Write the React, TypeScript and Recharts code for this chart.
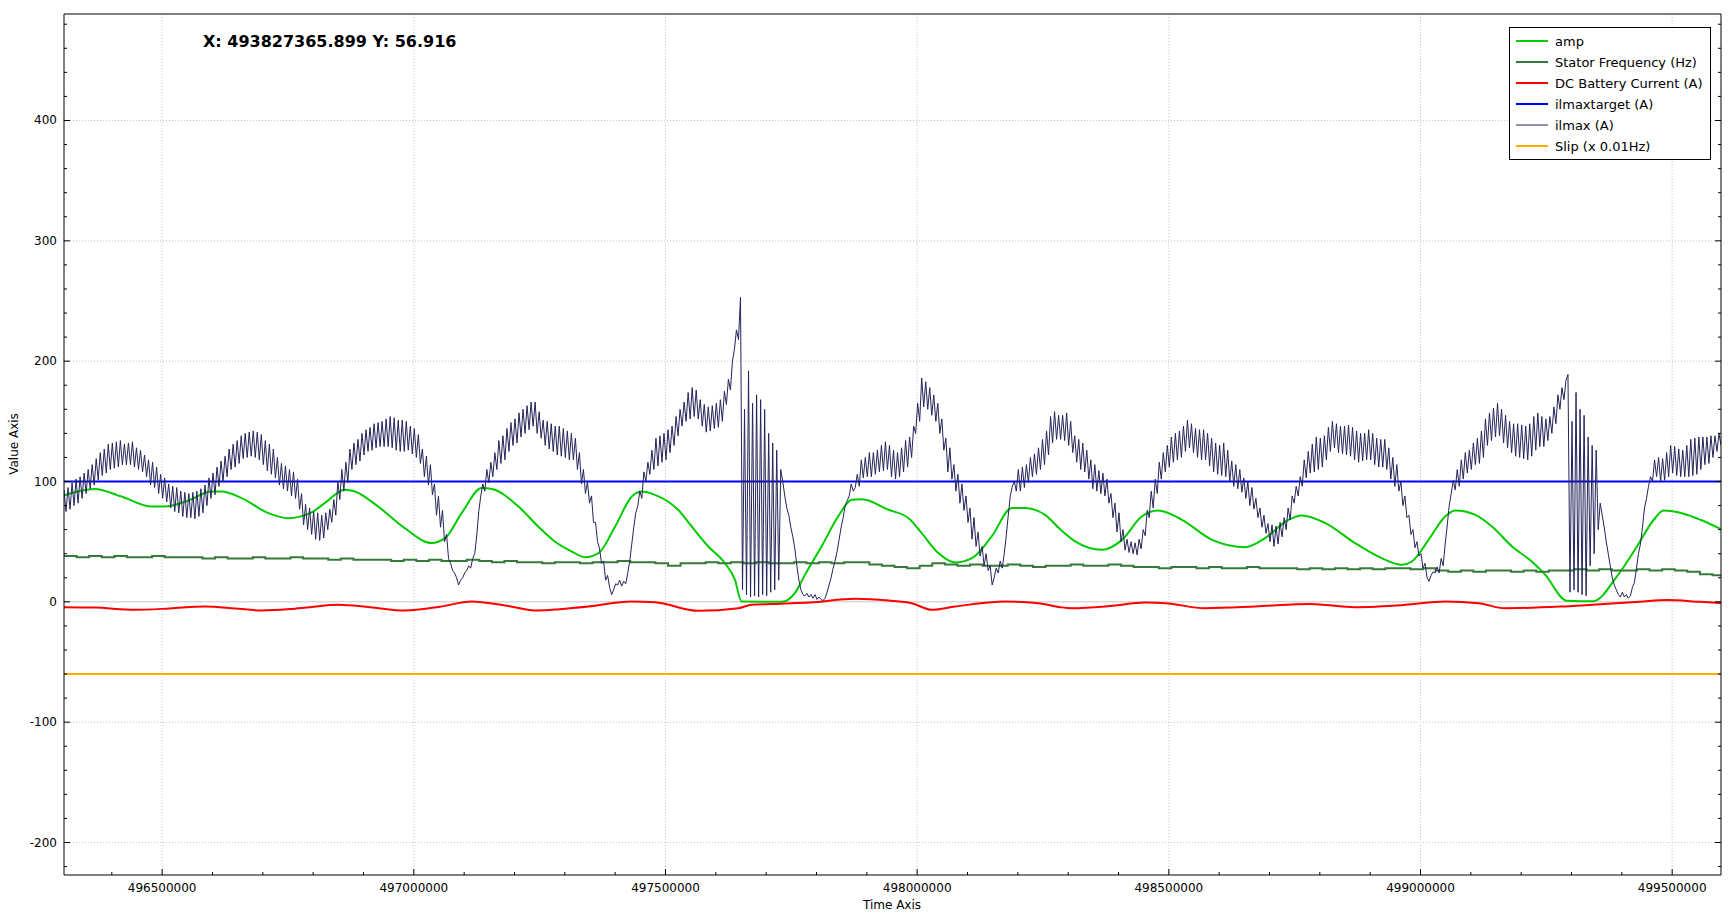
import React from "react";
import { LineChart, Line, XAxis, YAxis, CartesianGrid } from "recharts";

// visible window of the plot
const X_DOMAIN: [number, number] = [496305000, 499597000];
const Y_DOMAIN: [number, number] = [-227, 488.5];

const X_MAJOR = [496500000, 497000000, 497500000, 498000000, 498500000, 499000000, 499500000];
const Y_MAJOR = [-200, -100, 0, 100, 200, 300, 400];

// minor ticks every 100000 on x and every 20 on y
const X_TICKS: number[] = [];
for (let t = 496400000; t <= 499500000; t += 100000) X_TICKS.push(t);
const Y_TICKS: number[] = [];
for (let v = -220; v <= 480; v += 20) Y_TICKS.push(v);

// [time / 1000, value]
const AMP: [number, number][] = [
  [496305, 88.5], [496366, 93.7], [496419, 87.6], [496479, 79.2], [496505, 79.2], [496552, 84.2],
  [496598, 91.7], [496618, 91.7], [496658, 86.2], [496711, 73.7], [496750, 69.5], [496794, 73.7],
  [496823, 82], [496863, 93.1], [496883, 91.7], [496929, 79.2], [496982, 61.2], [497035, 48.8],
  [497062, 52.9], [497095, 73.7], [497135, 94.5], [497155, 93.7], [497208, 79.2], [497247, 62.6],
  [497280, 50.2], [497314, 41.8], [497340, 37.1], [497367, 40.5], [497400, 62.6], [497433, 87.6],
  [497453, 91.7], [497479, 88.9], [497525, 76.5], [497552, 62.6], [497585, 46], [497618, 32.1],
  [497638, 18.3], [497651, 0.3], [497731, 0], [497757, 7.2], [497777, 22.4], [497810, 46],
  [497843, 70.9], [497870, 84.8], [497890, 85.3], [497943, 76.5], [497983, 69.5], [498009, 57.1],
  [498042, 40.5], [498075, 32.7], [498109, 36.3], [498148, 54.3], [498188, 77.9], [498214, 77.9],
  [498254, 72.3], [498284, 60.4], [498314, 50.2], [498367, 43.2], [498407, 51.5], [498446, 70.9],
  [498479, 75.9], [498526, 68.2], [498586, 51.5], [498652, 45.4], [498691, 52.9], [498738, 68.2],
  [498764, 71.8], [498811, 65.4], [498870, 48.8], [498923, 36.3], [498963, 30.8], [498983, 33.5],
  [499016, 51.5], [499049, 70.9], [499069, 75.9], [499109, 72.3], [499142, 62.6], [499182, 46],
  [499221, 33.5], [499248, 22.4], [499290, 1], [499343, 0.5], [499390, 21], [499430, 46],
  [499463, 68], [499483, 75.9], [499523, 73.2], [499556, 68.2], [499597, 60.4],
];

const STATOR_T0 = 496305000;
const STATOR_DT = 25000;
const STATOR = [
  38, 37, 38, 37, 38, 37, 37, 38, 37, 37,
  37, 36, 37, 36, 36, 37, 36, 36, 37, 36,
  36, 35, 36, 35, 35, 35, 34, 35, 34, 35,
  34, 34, 35, 34, 33, 34, 33, 33, 32, 33,
  33, 32, 33, 33, 34, 33, 33, 32, 30, 32,
  32, 33, 32, 33, 32, 33, 32, 32, 33, 32,
  33, 32, 33, 33, 31, 30, 29, 28, 30, 32,
  31, 30, 31, 30, 30, 31, 30, 29, 30, 30,
  31, 30, 30, 31, 30, 29, 29, 28, 29, 29,
  28, 29, 28, 28, 29, 28, 28, 28, 27, 28,
  27, 28, 27, 28, 27, 28, 28, 27, 28, 26,
  25, 26, 25, 26, 26, 25, 26, 25, 26, 26,
  27, 26, 27, 26, 26, 27, 26, 27, 26, 25,
  23, 22, 21,
];

const DC: [number, number][] = [
  [496305, -4.5], [496366, -4.8], [496446, -6.6], [496515, -5.5], [496585, -3.9], [496645, -5.5],
  [496698, -7.2], [496754, -6], [496794, -4.4], [496850, -2.5], [496913, -4.5], [496982, -7.2],
  [497052, -4], [497115, 0.3], [497181, -3], [497247, -7.2], [497290, -6.1], [497347, -3.9],
  [497433, 0.3], [497479, -0.3], [497565, -7.5], [497645, -5.3], [497671, -2.5], [497728, -1.5],
  [497787, -0.6], [497877, 2.5], [497943, 1.1], [497989, -1.1], [498029, -6.6], [498075, -3.9],
  [498175, 0.3], [498241, -1.1], [498284, -4.4], [498307, -5.3], [498383, -3.5], [498453, -0.6],
  [498493, -1.1], [498572, -5.3], [498672, -3.9], [498781, -1.7], [498870, -4.4], [498970, -2.5],
  [499049, 0.3], [499115, -1.1], [499168, -5.3], [499278, -3.9], [499357, -2], [499435, 0],
  [499490, 1.5], [499556, 0], [499597, -1],
];

const ILMAX_TARGET: [number, number][] = [[496305, 100], [499597, 100]];
const SLIP: [number, number][] = [[496305, -60], [499597, -60]];

const ILMAX_T0 = 496305000;
const ILMAX_DT = 4000;
const ILMAX = [
  93, 75, 95, 77, 99, 80, 102, 82, 104, 86, 107, 90, 110, 94, 114,
  97, 119, 101, 124, 105, 127, 107, 131, 110, 132, 111, 133, 112, 134, 114,
  131, 114, 132, 114, 133, 112, 128, 110, 126, 108, 122, 104, 118, 97, 116,
  95, 112, 90, 106, 86, 103, 83, 98, 78, 96, 75, 95, 74, 92, 71,
  91, 70, 90, 70, 91, 69, 92, 71, 94, 74, 97, 80, 103, 86, 107,
  89, 112, 96, 117, 100, 121, 104, 127, 110, 131, 112, 134, 115, 138, 119,
  140, 120, 141, 121, 142, 120, 141, 118, 139, 114, 134, 109, 131, 106, 127,
  103, 120, 97, 115, 94, 113, 92, 110, 88, 108, 86, 102, 77, 90, 64,
  81, 60, 78, 56, 75, 52, 74, 51, 72, 53, 74, 60, 77, 66, 85,
  72, 100, 85, 110, 92, 116, 99, 127, 110, 132, 114, 135, 117, 140, 122,
  143, 125, 145, 126, 148, 128, 149, 129, 150, 129, 152, 129, 154, 128, 153,
  126, 151, 125, 151, 125, 150, 126, 146, 123, 144, 120, 139, 115, 127, 104,
  121, 97, 114, 89, 98, 72, 88, 62, 76, 50, 56, 36, 32, 26, 24,
  20, 14, 18, 20, 24, 26, 30, 28, 36, 40, 55, 75, 88, 98, 92,
  110, 99, 116, 104, 124, 110, 134, 115, 138, 118, 144, 125, 149, 130, 152,
  132, 157, 137, 160, 140, 163, 143, 166, 146, 166, 140, 158, 136, 151, 130,
  150, 127, 148, 125, 146, 122, 146, 121, 144, 120, 142, 118, 140, 118, 136,
  110, 124, 98, 110, 90, 100, 82, 88, 66, 66, 50, 44, 32, 34, 18,
  22, 12, 6, 10, 15, 14, 18, 13, 17, 15, 24, 34, 48, 62, 74,
  80, 92, 86, 108, 100, 116, 106, 126, 110, 136, 113, 138, 116, 140, 118,
  143, 124, 146, 130, 154, 138, 160, 146, 166, 150, 174, 152, 178, 154, 176,
  152, 168, 146, 164, 141, 162, 142, 163, 144, 165, 145, 168, 150, 175, 164,
  185, 176, 200, 210, 226, 218, 253, 10, 160, 6, 192, 4, 165, 5, 172,
  4, 168, 6, 160, 5, 140, 8, 132, 10, 126, 18, 110, 100, 88, 78,
  72, 62, 54, 44, 30, 18, 10, 6, 5, 7, 4, 6, 3, 6, 2,
  4, 2, 1, 3, 8, 14, 20, 28, 34, 42, 52, 62, 70, 80, 84,
  88, 98, 92, 95, 106, 96, 118, 103, 120, 104, 124, 104, 124, 106, 126,
  108, 130, 109, 133, 110, 130, 104, 126, 102, 124, 104, 128, 108, 134, 112,
  137, 120, 146, 140, 165, 150, 186, 162, 183, 160, 178, 155, 172, 150, 165,
  140, 152, 126, 136, 108, 128, 102, 114, 92, 106, 82, 98, 76, 88, 66,
  78, 52, 70, 46, 58, 38, 46, 30, 40, 26, 30, 14, 20, 28, 24,
  34, 28, 40, 55, 72, 88, 96, 100, 92, 110, 92, 112, 95, 114, 99,
  120, 104, 123, 106, 128, 110, 135, 114, 142, 122, 154, 132, 158, 135, 155,
  135, 155, 134, 157, 130, 150, 124, 138, 116, 135, 110, 132, 108, 126, 102,
  118, 94, 114, 92, 109, 90, 107, 88, 102, 82, 90, 70, 82, 58, 74,
  50, 60, 43, 52, 41, 50, 40, 49, 39, 52, 44, 60, 55, 76, 70,
  92, 78, 102, 90, 116, 102, 124, 108, 130, 112, 137, 116, 140, 118, 142,
  120, 146, 125, 151, 128, 148, 124, 144, 120, 143, 118, 143, 118, 140, 113,
  136, 108, 132, 106, 130, 105, 132, 104, 126, 100, 117, 96, 114, 94, 110,
  91, 103, 86, 100, 80, 95, 77, 86, 70, 78, 62, 72, 57, 65, 50,
  64, 46, 63, 48, 66, 54, 70, 60, 78, 68, 88, 82, 96, 88, 104,
  96, 118, 103, 125, 107, 131, 108, 137, 110, 136, 112, 138, 118, 145, 125,
  150, 128, 148, 124, 146, 123, 146, 122, 147, 121, 145, 118, 142, 116, 140,
  117, 140, 118, 143, 118, 140, 114, 136, 112, 135, 112, 135, 110, 128, 102,
  120, 96, 114, 92, 100, 80, 88, 70, 72, 56, 60, 45, 50, 38, 40,
  28, 32, 20, 17, 22, 25, 24, 29, 24, 36, 30, 48, 63, 80, 90,
  101, 93, 110, 96, 118, 102, 124, 107, 126, 110, 132, 114, 136, 115, 142,
  120, 152, 130, 157, 134, 161, 137, 165, 138, 160, 132, 155, 128, 150, 124,
  148, 121, 148, 120, 147, 119, 146, 118, 148, 121, 154, 126, 157, 129, 154,
  129, 152, 134, 154, 140, 162, 148, 172, 160, 178, 168, 184, 189, 8, 150,
  10, 174, 8, 160, 6, 155, 5, 137, 30, 130, 40, 126, 60, 82, 72,
  62, 50, 40, 30, 20, 14, 10, 6, 4, 8, 4, 6, 3, 5, 12,
  16, 28, 40, 48, 62, 78, 86, 96, 104, 100, 118, 104, 120, 100, 119,
  101, 124, 104, 130, 107, 129, 105, 127, 104, 126, 104, 130, 104, 135, 105,
  136, 106, 137, 110, 137, 114, 137, 115, 138, 120, 138, 125,
  140, 130,
];

const SERIES = [
  { name: "amp", color: "#00cc00", width: 2 },
  { name: "Stator Frequency (Hz)", color: "#367a39", width: 2 },
  { name: "DC Battery Current (A)", color: "#ff0000", width: 2 },
  { name: "ilmaxtarget (A)", color: "#0000ff", width: 2 },
  { name: "ilmax (A)", color: "#24245a", width: 1 },
  { name: "Slip (x 0.01Hz)", color: "#ffaa00", width: 2 },
];

const pairs = (arr: [number, number][]) => arr.map(([t, v]) => ({ t: t * 1000, v }));
const ampData = pairs(AMP);
const dcData = pairs(DC);
const targetData = pairs(ILMAX_TARGET);
const slipData = pairs(SLIP);
const statorData = STATOR.map((v, i) => ({ t: STATOR_T0 + i * STATOR_DT, v }));
const ilmaxData = ILMAX.map((v, i) => ({ t: ILMAX_T0 + i * ILMAX_DT, v }));

const FONT = "DejaVu Sans";

const isMajorX = (v: number) => v % 500000 === 0;
const isMajorY = (v: number) => v % 100 === 0;

function BottomTick({ x, y, payload }: any) {
  const major = isMajorX(payload.value);
  return (
    <g>
      <line x1={x} x2={x} y1={y} y2={y - (major ? 6 : 3)} stroke="#000" />
      {major && (
        <text x={x} y={y + 13} textAnchor="middle" dominantBaseline="central" fontSize={12} fontFamily={FONT} fill="#000">
          {String(payload.value)}
        </text>
      )}
    </g>
  );
}

function TopTick({ x, y, payload }: any) {
  const major = isMajorX(payload.value);
  return <line x1={x} x2={x} y1={y} y2={y + (major ? 6 : 3)} stroke="#000" />;
}

function LeftTick({ x, y, payload }: any) {
  const major = isMajorY(payload.value);
  return (
    <g>
      <line x1={x} x2={x + (major ? 6 : 3)} y1={y} y2={y} stroke="#000" />
      {major && (
        <text x={x - 7} y={y} textAnchor="end" dominantBaseline="central" fontSize={12} fontFamily={FONT} fill="#000">
          {String(payload.value)}
        </text>
      )}
    </g>
  );
}

function RightTick({ x, y, payload }: any) {
  const major = isMajorY(payload.value);
  return <line x1={x - (major ? 6 : 3)} x2={x} y1={y} y2={y} stroke="#000" />;
}

const gridY = Y_MAJOR.filter((v) => v !== 0);

export default function App() {
  const lineData = [ampData, statorData, dcData, targetData, ilmaxData, slipData];
  return (
    <div style={{ position: "relative", width: 1736, height: 918, background: "#fff" }}>
      <style>{"body{margin:0}"}</style>
      <LineChart width={1736} height={918} margin={{ top: 0, right: 0, bottom: 0, left: 0 }} style={{ fontFamily: FONT }}>
        <CartesianGrid
          xAxisId="b"
          yAxisId="l"
          stroke="#c4c4c4"
          strokeDasharray="1 2"
          horizontalValues={gridY}
          verticalValues={X_MAJOR}
          syncWithTicks
        />
        <CartesianGrid
          xAxisId="b"
          yAxisId="l"
          stroke="#c8c8c8"
          vertical={false}
          horizontalValues={[0]}
          syncWithTicks
        />
        <XAxis
          xAxisId="b"
          dataKey="t"
          type="number"
          domain={X_DOMAIN}
          allowDataOverflow
          ticks={X_TICKS}
          interval={0}
          height={43}
          tickSize={0}
          tickMargin={0}
          tickLine={false}
          axisLine={{ stroke: "#000" }}
          tick={BottomTick}
        />
        <XAxis
          xAxisId="t"
          orientation="top"
          type="number"
          domain={X_DOMAIN}
          allowDataOverflow
          ticks={X_TICKS}
          interval={0}
          height={14}
          tickSize={0}
          tickMargin={0}
          tickLine={false}
          axisLine={{ stroke: "#000" }}
          tick={TopTick}
        />
        <YAxis
          yAxisId="l"
          type="number"
          domain={Y_DOMAIN}
          allowDataOverflow
          ticks={Y_TICKS}
          interval={0}
          width={64}
          tickSize={0}
          tickMargin={0}
          tickLine={false}
          axisLine={{ stroke: "#000" }}
          tick={LeftTick}
        />
        <YAxis
          yAxisId="r"
          orientation="right"
          type="number"
          domain={Y_DOMAIN}
          allowDataOverflow
          ticks={Y_TICKS}
          interval={0}
          width={15}
          tickSize={0}
          tickMargin={0}
          tickLine={false}
          axisLine={{ stroke: "#000" }}
          tick={RightTick}
        />
        {SERIES.map((s, i) => (
          <Line
            key={s.name}
            name={s.name}
            xAxisId="b"
            yAxisId="l"
            data={lineData[i]}
            dataKey="v"
            type={i === 1 ? "stepAfter" : i === 0 || i === 2 ? "monotone" : "linear"}
            stroke={s.color}
            strokeWidth={s.width}
            dot={false}
            activeDot={false}
            isAnimationActive={false}
          />
        ))}
      </LineChart>
      <svg
        width={1736}
        height={918}
        style={{ position: "absolute", left: 0, top: 0, pointerEvents: "none" }}
        fontFamily={FONT}
      >
        <text x={203} y={47} fontSize={16} fontWeight="bold" fill="#000">
          X: 493827365.899 Y: 56.916
        </text>
        <text
          x={14}
          y={444}
          transform="rotate(-90 14 444)"
          textAnchor="middle"
          dominantBaseline="central"
          fontSize={12}
          fill="#000"
        >
          Value Axis
        </text>
        <text x={892} y={905} textAnchor="middle" dominantBaseline="central" fontSize={12} fill="#000">
          Time Axis
        </text>
        <rect x={1509.5} y={27.5} width={201} height={132} fill="#fff" stroke="#000" />
        {SERIES.map((s, i) => (
          <g key={s.name}>
            <line x1={1516} x2={1548} y1={41 + i * 21} y2={41 + i * 21} stroke={s.color} strokeWidth={s.width} />
            <text x={1555} y={41 + i * 21} dominantBaseline="central" fontSize={13} fill="#000">
              {s.name}
            </text>
          </g>
        ))}
      </svg>
    </div>
  );
}
